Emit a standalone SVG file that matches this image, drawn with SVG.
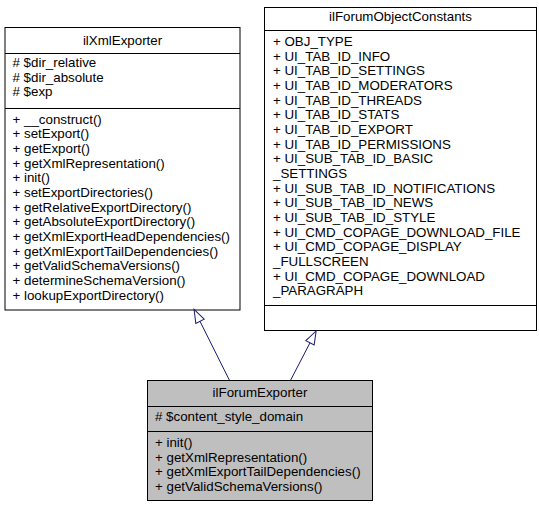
<svg xmlns="http://www.w3.org/2000/svg" width="539" height="507" viewBox="0 0 539 507">
<style>
rect.box{fill:#ffffff;stroke:#000000;stroke-width:1}
rect.cur{fill:#bfbfbf;stroke:#000000;stroke-width:1}
line.sep{stroke:#000000;stroke-width:1}
text{font-family:"Liberation Sans",Arial,Helvetica,sans-serif;font-size:13.33px;fill:#000000}
text.t{text-anchor:middle}
.edge{stroke:#191970;stroke-width:1;fill:none}
</style>
<defs>
<marker id="inh" markerUnits="userSpaceOnUse" markerWidth="16" markerHeight="12" refX="0" refY="5" orient="auto" overflow="visible">
<path d="M0,0.33 L13.3,5 L0,9.67 Z" fill="none" stroke="#191970" stroke-width="1"/>
</marker>
</defs>
<rect width="539" height="507" fill="#ffffff"/>
<g id="ilXmlExporter">
<rect class="box" x="5" y="27.5" width="235" height="282.5"/>
<line class="sep" x1="5" y1="53.5" x2="240" y2="53.5"/>
<line class="sep" x1="5" y1="108.5" x2="240" y2="108.5"/>
<text class="t" x="122.5" y="44.5">ilXmlExporter</text>
<text x="12.5" y="67"># $dir_relative</text>
<text x="12.5" y="81.7"># $dir_absolute</text>
<text x="12.5" y="96.3"># $exp</text>
<text x="12.5" y="123.5">+ __construct()</text>
<text x="12.5" y="138.2">+ setExport()</text>
<text x="12.5" y="152.8">+ getExport()</text>
<text x="12.5" y="167.5">+ getXmlRepresentation()</text>
<text x="12.5" y="182.2">+ init()</text>
<text x="12.5" y="196.8">+ setExportDirectories()</text>
<text x="12.5" y="211.5">+ getRelativeExportDirectory()</text>
<text x="12.5" y="226.2">+ getAbsoluteExportDirectory()</text>
<text x="12.5" y="240.8">+ getXmlExportHeadDependencies()</text>
<text x="12.5" y="255.5">+ getXmlExportTailDependencies()</text>
<text x="12.5" y="270.2">+ getValidSchemaVersions()</text>
<text x="12.5" y="284.8">+ determineSchemaVersion()</text>
<text x="12.5" y="299.5">+ lookupExportDirectory()</text>
</g>
<g id="ilForumObjectConstants">
<rect class="box" x="264.5" y="7.5" width="272" height="323"/>
<line class="sep" x1="264.5" y1="30.5" x2="536.5" y2="30.5"/>
<line class="sep" x1="264.5" y1="305.5" x2="536.5" y2="305.5"/>
<text class="t" x="400.5" y="21">ilForumObjectConstants</text>
<text x="273" y="46">+ OBJ_TYPE</text>
<text x="273" y="60.7">+ UI_TAB_ID_INFO</text>
<text x="273" y="75.3">+ UI_TAB_ID_SETTINGS</text>
<text x="273" y="90">+ UI_TAB_ID_MODERATORS</text>
<text x="273" y="104.7">+ UI_TAB_ID_THREADS</text>
<text x="273" y="119.3">+ UI_TAB_ID_STATS</text>
<text x="273" y="134">+ UI_TAB_ID_EXPORT</text>
<text x="273" y="148.7">+ UI_TAB_ID_PERMISSIONS</text>
<text x="273" y="163.3">+ UI_SUB_TAB_ID_BASIC</text>
<text x="273" y="178">_SETTINGS</text>
<text x="273" y="192.7">+ UI_SUB_TAB_ID_NOTIFICATIONS</text>
<text x="273" y="207.3">+ UI_SUB_TAB_ID_NEWS</text>
<text x="273" y="222">+ UI_SUB_TAB_ID_STYLE</text>
<text x="273" y="236.7">+ UI_CMD_COPAGE_DOWNLOAD_FILE</text>
<text x="273" y="251.3">+ UI_CMD_COPAGE_DISPLAY</text>
<text x="273" y="266">_FULLSCREEN</text>
<text x="273" y="280.7">+ UI_CMD_COPAGE_DOWNLOAD</text>
<text x="273" y="295.3">_PARAGRAPH</text>
</g>
<g id="ilForumExporter">
<rect class="cur" x="147.5" y="380.5" width="225" height="120"/>
<line class="sep" x1="147.5" y1="406.5" x2="372.5" y2="406.5"/>
<line class="sep" x1="147.5" y1="431.5" x2="372.5" y2="431.5"/>
<text class="t" x="260" y="397">ilForumExporter</text>
<text x="155" y="421"># $content_style_domain</text>
<text x="155" y="447">+ init()</text>
<text x="155" y="461.7">+ getXmlRepresentation()</text>
<text x="155" y="476.3">+ getXmlExportTailDependencies()</text>
<text x="155" y="491">+ getValidSchemaVersions()</text>
</g>
<g id="connectors">
<path class="edge" d="M229.3,380 L200,321.3" marker-end="url(#inh)"/>
<path class="edge" d="M290.7,380 L310,342.8" marker-end="url(#inh)"/>
</g>
</svg>
